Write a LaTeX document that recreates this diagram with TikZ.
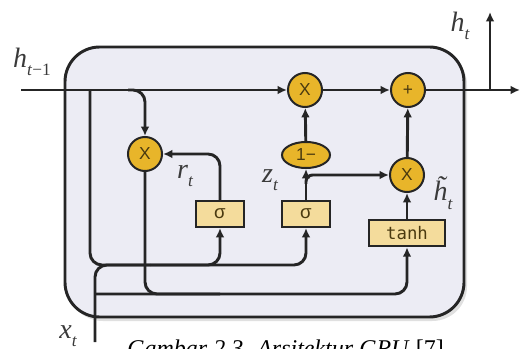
\documentclass[tikz,border=0pt]{standalone}
\usepackage{fontspec}
\setmainfont{Liberation Serif}
\setsansfont{Liberation Sans}
\setmonofont{DejaVu Sans Mono}
\usetikzlibrary{arrows.meta,shapes.geometric}
\definecolor{boxbg}{HTML}{ECECF4}
\definecolor{opgold}{HTML}{E8B52A}
\definecolor{gatefill}{HTML}{F4DC9C}
\definecolor{ink}{HTML}{252525}
\definecolor{optext}{HTML}{4A3A10}
\definecolor{labelink}{HTML}{3A3A3A}
\newcommand\lbl[2]{{\fontsize{21}{21}\selectfont\itshape #1\raisebox{-0.3em}{\fontsize{13}{13}\selectfont #2}}}
\begin{document}
\begin{tikzpicture}[x=0.75pt,y=-0.75pt,
  line/.style={draw=ink, line width=2.2pt},
  arr/.style={line, -{Latex[length=7pt,width=6.5pt]}},
  rc/.style={rounded corners=9pt},
  op/.style={circle, draw=ink, line width=1.5pt, fill=opgold, minimum size=25.5pt,
    inner sep=0pt, font=\sffamily\fontsize{13}{13}\selectfont, text=optext},
  gatebox/.style={rectangle, draw=ink, line width=1.5pt, fill=gatefill,
    minimum width=36pt, minimum height=19.5pt, inner sep=0pt,
    font=\sffamily\fontsize{14}{14}\selectfont, text=optext},
  lab/.style={text=labelink, inner sep=0pt}]
\useasboundingbox (0,0) rectangle (521,349);
% cell
\fill[black!12, rounded corners=26pt] (68,50) rectangle (467,321);
\draw[draw=ink, line width=2.2pt, fill=boxbg, rounded corners=26pt] (65,47) rectangle (464,317);
% nodes
\node[op] (mr) at (145,154) {X};
\node[op] (m1) at (305,90) {X};
\node[op] (pl) at (408,90) {+};
\node[op, ellipse, minimum width=36pt, minimum height=19.5pt] (om) at (306,155) {1−};
\node[op] (m2) at (407,175) {X};
\node[gatebox] (sr) at (220,214) {σ};
\node[gatebox] (sz) at (306,214) {σ};
\node[gatebox, minimum width=57pt, minimum height=20pt, font=\ttfamily\fontsize{13}{13}\selectfont] (th) at (407,233) {tanh};
% coordinates
\coordinate (hin) at (21,90);
\coordinate (hout) at (520,90);
\coordinate (jt) at (490,90);
\coordinate (ht) at (490,12);
\coordinate (jr) at (128,90);
\coordinate (jh) at (90,90);
\coordinate (mg) at (150,265);
\coordinate (xt) at (95,342);
\coordinate (jx) at (95,294);
\coordinate (jrx) at (220,294);
\coordinate (jz) at (306,184);
% connectors
\draw[arr] (hin) -- (m1);
\draw[arr] (m1) -- (pl);
\draw[arr] (pl) -- (hout);
\draw[arr] (jt) -- (ht);
\draw[arr, rc] (jr) -| (mr);
\draw[line, rc] (jh) |- (mg);
\draw[line, rc] (xt) |- (mg);
\draw[arr, rc] (mg) -| (sr);
\draw[arr, rc] (mg) -| (sz);
\draw[arr, rc] (jx) -| (th);
\draw[line, rc] (mr) |- (jrx);
\draw[arr, rc] (sr) |- (mr);
\draw[arr] (sz) -- (om);
\draw[arr, rounded corners=5pt] (jz) |- (m2);
\draw[arr] (om) -- (m1);
\draw[arr] (m2) -- (pl);
\draw[arr] (th) -- (m2);
% labels
\node[lab] (lhp) at (32,62) {\lbl{h}{t\textup{−1}}};
\node[lab] (lht) at (460,26) {\lbl{h}{t}};
\node[lab] (lrt) at (185,176) {\lbl{r}{t}};
\node[lab] (lzt) at (270,180) {\lbl{z}{t}};
\node[lab] (lhtil) at (443,193) {\lbl{\~h}{t}};
\node[lab] (lxt) at (68,336) {\lbl{x}{t}};
\node[anchor=base west, inner sep=0pt, font=\itshape\fontsize{18}{18}\selectfont] (cap) at (127,356) {Gambar 2.3. Arsitektur GRU \textup{[7]}};
\end{tikzpicture}
\end{document}
